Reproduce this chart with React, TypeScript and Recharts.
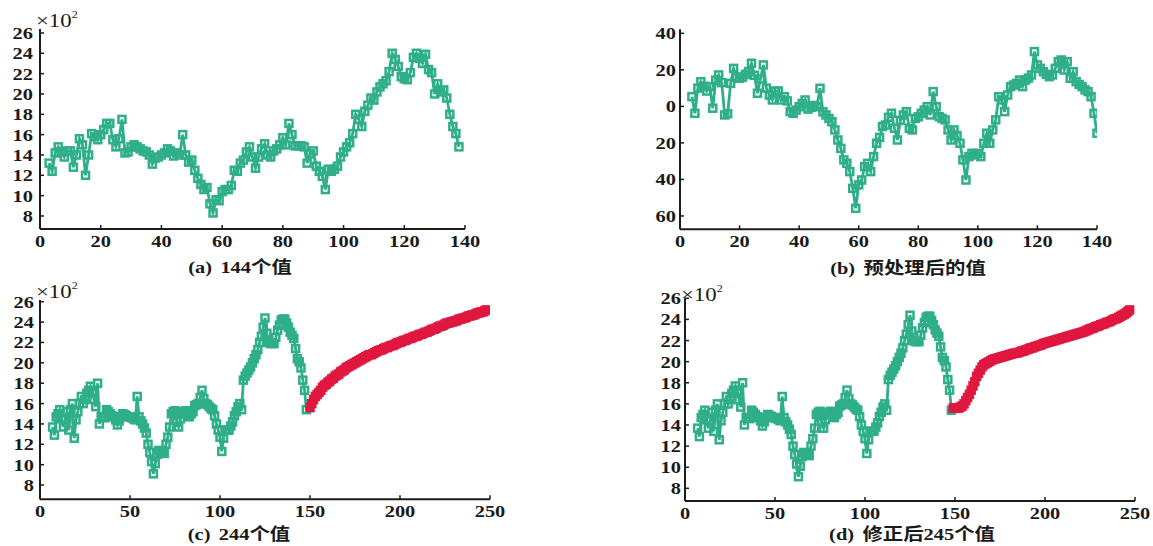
import React from "react";
import { LineChart, Line, XAxis, YAxis } from "recharts";

// ---- data ----
// (a) 144 original values
const aStart = 3;
const aValues = [
  13.2, 12.4, 14.2, 14.8, 14.3, 13.8, 14.4, 14.4, 12.8, 14.0,
  15.6, 15.0, 12.0, 14.0, 16.1, 15.8, 15.5, 16.0, 16.5, 17.1,
  17.1, 15.5, 14.8, 15.6, 17.5, 14.2, 14.3, 14.8, 15.0, 14.8,
  14.6, 14.4, 14.3, 14.0, 13.1, 13.7, 13.8, 14.0, 14.2, 14.6,
  14.4, 13.9, 14.2, 14.0, 16.0, 14.0, 13.3, 13.5, 12.5, 11.7,
  11.1, 10.6, 10.8, 9.2, 8.3, 9.6, 9.5, 10.4, 10.6, 10.6,
  11.0, 12.5, 12.4, 13.2, 13.5, 14.3, 14.8, 13.8, 12.7, 13.8,
  14.6, 15.1, 14.0, 13.8, 14.4, 14.6, 15.0, 15.7, 15.0, 17.1,
  16.0, 14.9, 14.9, 14.9, 14.8, 13.2, 14.1, 14.4, 12.9, 12.4,
  11.9, 10.6, 12.6, 12.4, 12.6, 12.9, 13.8, 14.3, 14.8, 15.2,
  16.1, 18.0, 17.5, 16.8, 18.3, 18.9, 19.6, 19.4, 20.2, 20.7,
  21.0, 21.3, 22.2, 24.0, 23.4, 22.7, 21.7, 21.5, 21.4, 22.1,
  23.6, 24.0, 23.5, 23.0, 23.9, 22.4, 22.1, 20.0, 21.0, 20.2,
  20.4, 19.6, 18.0, 16.8, 16.1, 14.8,
];

// (b) preprocessed values
const bStart = 4;
const bValues = [
  5.3, -3.8, 10.0, 13.5, 11.0, 8.4, 10.8, -1.0, 14.4, 17.2,
  13.0, -4.7, -4.0, 12.6, 20.8, 16.0, 15.4, 16.0, 17.5, 19.0,
  23.6, 17.0, 7.2, 15.0, 22.7, 10.0, 6.2, 3.5, 8.4, 8.4,
  3.5, 5.3, 3.0, -2.9, -3.8, -2.0, -0.2, 1.6, 3.5, -1.5,
  -0.5, 0.5, -0.2, 9.9, -3.0, -4.7, -6.6, -8.4, -12.9, -18.4,
  -23.0, -29.3, -31.2, -35.7, -44.9, -55.8, -43.0, -40.3, -33.0, -31.2,
  -35.7, -27.5, -20.2, -17.0, -11.0, -10.2, -6.0, -3.8, -12.0, -18.4,
  -7.6, -4.7, -2.9, -12.0, -12.9, -6.6, -5.7, -3.8, -2.0, -0.2,
  -4.7, 8.1, -0.2, -5.6, -6.6, -7.4, -12.9, -18.4, -12.9, -16.0,
  -20.2, -29.3, -40.3, -27.5, -25.7, -26.6, -25.7, -27.5, -20.2, -14.7,
  -20.2, -12.9, -7.4, 5.3, 3.5, -2.9, 6.2, 10.8, 11.7, 12.6,
  14.4, 10.8, 14.4, 15.5, 17.2, 30.0, 22.7, 20.8, 19.0, 17.5,
  16.3, 17.2, 20.8, 24.5, 25.4, 19.9, 24.5, 15.4, 19.0, 13.5,
  12.0, 10.8, 9.0, 8.1, 5.3, -3.8, -14.7,
];

// (c)/(d) known part (green)
const cdStart = 7;
const cdGreen = [
  13.7, 12.9, 14.7, 15.0, 15.4, 14.5, 13.7, 14.4, 15.2, 13.4,
  15.4, 16.0, 12.6, 14.4, 15.2, 16.0, 16.7, 16.0, 16.4, 17.0,
  17.3, 17.7, 17.2, 16.4, 15.7, 18.0, 14.0, 14.7, 14.7, 14.6,
  15.4, 15.2, 15.0, 14.8, 14.7, 14.4, 13.9, 14.3, 14.7, 15.0,
  14.9, 14.8, 14.7, 14.7, 14.6, 14.5, 14.4, 16.7, 14.7, 14.3,
  14.0, 13.6, 13.1, 12.0, 11.2, 10.3, 9.1, 10.1, 11.0, 11.4,
  11.3, 11.2, 11.1, 12.0, 12.7, 13.7, 15.0, 15.2, 15.3, 14.2,
  13.7, 14.5, 15.0, 15.2, 15.3, 14.9, 14.7, 15.0, 15.2, 15.8,
  15.9, 16.0, 16.6, 17.3, 16.5, 16.0, 15.9, 15.7, 15.5, 15.4,
  14.8, 14.0, 13.4, 12.7, 11.3, 12.6, 13.4, 13.4, 13.4, 13.8,
  14.2, 14.8, 15.2, 15.7, 16.0, 15.4, 18.3, 18.7, 19.0, 19.3,
  19.6, 20.0, 20.4, 20.8, 21.3, 22.0, 22.6, 23.5, 24.4, 22.9,
  22.0, 21.9, 21.9, 21.9, 22.5, 23.2, 23.7, 24.2, 24.3, 24.3,
  23.9, 23.5, 23.0, 22.7, 22.4, 21.4, 20.4, 20.1, 19.5, 18.3,
  17.3, 15.4,
];

// (c) predicted part (red)
const cRedStart = 150;
const cRed = [
  15.6, 16.0, 16.4, 16.7, 16.9, 17.1, 17.3, 17.6, 17.8, 17.9,
  18.1, 18.2, 18.4, 18.5, 18.7, 18.8, 18.9, 19.1, 19.2, 19.3,
  19.5, 19.6, 19.7, 19.8, 19.9, 20.0, 20.1, 20.2, 20.3, 20.4,
  20.5, 20.6, 20.7, 20.8, 20.8, 20.9, 21.0, 21.1, 21.2, 21.25,
  21.3, 21.4, 21.5, 21.5, 21.6, 21.7, 21.7, 21.8, 21.9, 22.0,
  22.0, 22.1, 22.2, 22.2, 22.3, 22.4, 22.4, 22.5, 22.6, 22.6,
  22.7, 22.8, 22.8, 22.9, 23.0, 23.0, 23.1, 23.2, 23.3, 23.3,
  23.4, 23.5, 23.6, 23.6, 23.7, 23.8, 23.9, 23.9, 24.0, 24.0,
  24.1, 24.1, 24.2, 24.3, 24.3, 24.4, 24.4, 24.5, 24.6, 24.6,
  24.7, 24.7, 24.8, 24.9, 24.9, 25.0, 25.0, 25.1, 25.2,
];

// (d) corrected predicted part (red)
const dRedStart = 149;
const dRed = [
  15.6, 15.6, 15.6, 15.6, 15.7, 15.8, 16.0, 16.3, 16.6, 16.9,
  17.3, 17.7, 18.1, 18.6, 18.9, 19.2, 19.5, 19.7, 19.8, 19.9,
  20.0, 20.1, 20.2, 20.25, 20.3, 20.35, 20.4, 20.45, 20.5, 20.55,
  20.6, 20.65, 20.7, 20.75, 20.8, 20.8, 20.85, 20.9, 21.0, 21.0,
  21.1, 21.15, 21.2, 21.3, 21.3, 21.4, 21.45, 21.5, 21.55, 21.6,
  21.7, 21.75, 21.8, 21.85, 21.9, 21.95, 22.0, 22.05, 22.1, 22.15,
  22.2, 22.25, 22.3, 22.35, 22.4, 22.45, 22.5, 22.55, 22.6, 22.65,
  22.7, 22.75, 22.8, 22.85, 22.95, 23.0, 23.1, 23.15, 23.2, 23.3,
  23.35, 23.4, 23.5, 23.55, 23.6, 23.7, 23.75, 23.8, 23.9, 24.0,
  24.05, 24.1, 24.2, 24.3, 24.4, 24.5, 24.6, 24.75, 24.9,
];

const ticks140 = [0, 20, 40, 60, 80, 100, 120, 140];
const ticks250 = [0, 50, 100, 150, 200, 250];
const ticksE2 = [8, 10, 12, 14, 16, 18, 20, 22, 24, 26];
const ticksB = [-60, -40, -20, 0, 20, 40];

const captions = ["(a)", "(b)", "(c)", "(d)"];
const captionTexts = ["144个值", "预处理后的值", "244个值", "修正后245个值"];

const GREEN = "#2fae8a";
const RED = "#e0173f";
const AXIS = "#1c1c1c";
const SERIF = '"Liberation Serif", "DejaVu Serif", serif';
const CAPTION_FONT = '"Liberation Serif", "Noto Sans CJK SC", serif';

type Row = { x: number; g?: number; r?: number };

function buildRows(gStart: number, g: number[], rStart?: number, r?: number[]): Row[] {
  const map = new Map<number, Row>();
  g.forEach((v, i) => map.set(gStart + i, { x: gStart + i, g: v }));
  if (r && rStart !== undefined) {
    r.forEach((v, i) => {
      const x = rStart + i;
      const row = map.get(x) ?? { x };
      row.r = v;
      map.set(x, row);
    });
  }
  return [...map.values()].sort((a, b) => a.x - b.x);
}

const square = (color: string, filled: boolean) => (props: any) => {
  const { cx, cy, index } = props;
  if (cx == null || cy == null || isNaN(cy)) return <g key={`n${index}`} />;
  return (
    <rect
      key={`s${index}`}
      x={cx - 3.5}
      y={cy - 3.5}
      width={7}
      height={7}
      fill={filled ? color : "none"}
      stroke={color}
      strokeWidth={2.5}
    />
  );
};

const XTick = (props: any) => {
  const { x, y, payload } = props;
  return (
    <g>
      <line x1={x} x2={x} y1={y} y2={y - 4} stroke={AXIS} strokeWidth={1.5} />
      <text
        transform={`translate(${x},${y + 18}) scale(1.2,1)`}
        textAnchor="middle"
        style={{ fontFamily: SERIF, fontWeight: 700, fontSize: 17 }}
        fill="#1a1a1a"
      >
        {payload.value}
      </text>
    </g>
  );
};

const YTick = (props: any) => {
  const { x, y, payload, gap, abs } = props;
  const label = abs ? Math.abs(payload.value) : payload.value;
  return (
    <g>
      <line x1={x} x2={x + 4} y1={y} y2={y} stroke={AXIS} strokeWidth={1.5} />
      <text
        transform={`translate(${x - gap},${y + 6}) scale(1.2,1)`}
        textAnchor="end"
        style={{ fontFamily: SERIF, fontWeight: 700, fontSize: 17 }}
        fill="#1a1a1a"
      >
        {label}
      </text>
    </g>
  );
};

interface PanelProps {
  left: number;
  top: number;
  width: number;
  height: number;
  marginTop: number;
  marginRight: number;
  xDomain: [number, number];
  xTicks: number[];
  yDomain: [number, number];
  yTicks: number[];
  gap: number;
  abs?: boolean;
  rows: Row[];
  hasRed?: boolean;
}

const Panel: React.FC<PanelProps> = (p) => (
  <div style={{ position: "absolute", left: p.left, top: p.top }}>
    <LineChart
      width={p.width}
      height={p.height}
      data={p.rows}
      margin={{ top: p.marginTop, right: p.marginRight, bottom: 0, left: 0 }}
    >
      <XAxis
        type="number"
        dataKey="x"
        domain={p.xDomain}
        ticks={p.xTicks}
        allowDataOverflow
        interval={0}
        height={30}
        tickSize={0}
        tickMargin={0}
        tickLine={false}
        axisLine={{ stroke: AXIS, strokeWidth: 2 }}
        tick={(t: any) => <XTick {...t} />}
      />
      <YAxis
        type="number"
        domain={p.yDomain}
        ticks={p.yTicks}
        allowDataOverflow
        interval={0}
        width={40}
        tickSize={0}
        tickMargin={0}
        tickLine={false}
        axisLine={{ stroke: AXIS, strokeWidth: 2 }}
        tick={(t: any) => <YTick {...t} gap={p.gap} abs={p.abs} />}
      />
      <Line
        type="linear"
        dataKey="g"
        stroke={GREEN}
        strokeWidth={2.8}
        dot={square(GREEN, false)}
        activeDot={false}
        isAnimationActive={false}
      />
      {p.hasRed && (
        <Line
          type="linear"
          dataKey="r"
          stroke={RED}
          strokeWidth={2.8}
          dot={square(RED, true)}
          activeDot={false}
          isAnimationActive={false}
        />
      )}
    </LineChart>
  </div>
);

const Times10 = ({ x, y }: { x: number; y: number }) => (
  <text
    transform={`translate(${x},${y}) scale(1.2,1)`}
    style={{ fontFamily: SERIF, fontSize: 19 }}
    fill="#1a1a1a"
  >
    ×10
    <tspan dy={-9} style={{ fontSize: 10 }}>
      2
    </tspan>
  </text>
);

const Caption = ({ i, x, y }: { i: number; x: number; y: number }) => (
  <text
    transform={`translate(${x},${y}) scale(1.2,1)`}
    textAnchor="middle"
    style={{ fontFamily: CAPTION_FONT, fontWeight: 700, fontSize: 17 }}
    fill="#1a1a1a"
  >
    {captions[i]}
    <tspan dx={7}>{captionTexts[i]}</tspan>
  </text>
);

export default function App() {
  const rowsA = buildRows(aStart, aValues);
  const rowsB = buildRows(bStart, bValues);
  const rowsC = buildRows(cdStart, cdGreen, cRedStart, cRed);
  const rowsD = buildRows(cdStart, cdGreen, dRedStart, dRed);

  return (
    <div
      style={{
        position: "absolute",
        left: 0,
        top: 0,
        width: 1153,
        height: 546,
        overflow: "hidden",
        background: "#fff",
      }}
    >
      <Panel
        left={0}
        top={0}
        width={490}
        height={259}
        marginTop={29}
        marginRight={25}
        xDomain={[0, 140]}
        xTicks={ticks140}
        yDomain={[6.72, 26.39]}
        yTicks={ticksE2}
        gap={7}
        rows={rowsA}
      />
      <Panel
        left={640}
        top={0}
        width={482}
        height={259.3}
        marginTop={29.3}
        marginRight={25}
        xDomain={[0, 140]}
        xTicks={ticks140}
        yDomain={[-67.3, 42.2]}
        yTicks={ticksB}
        gap={4}
        abs
        rows={rowsB}
      />
      <Panel
        left={0}
        top={270}
        width={515}
        height={259.3}
        marginTop={30}
        marginRight={25}
        xDomain={[0, 250]}
        xTicks={ticks250}
        yDomain={[6.6, 26.17]}
        yTicks={ticksE2}
        gap={6}
        rows={rowsC}
        hasRed
      />
      <Panel
        left={645}
        top={270}
        width={506}
        height={261}
        marginTop={28.3}
        marginRight={16}
        xDomain={[0, 250]}
        xTicks={ticks250}
        yDomain={[6.8, 26.0]}
        yTicks={ticksE2}
        gap={4}
        rows={rowsD}
        hasRed
      />
      <svg
        width={1153}
        height={546}
        style={{ position: "absolute", left: 0, top: 0, pointerEvents: "none" }}
      >
        <Times10 x={36} y={27} />
        <Times10 x={36} y={298} />
        <Times10 x={681} y={301} />
        <Caption i={0} x={240} y={273} />
        <Caption i={1} x={908} y={274} />
        <Caption i={2} x={239} y={540} />
        <Caption i={3} x={912} y={540} />
      </svg>
    </div>
  );
}
